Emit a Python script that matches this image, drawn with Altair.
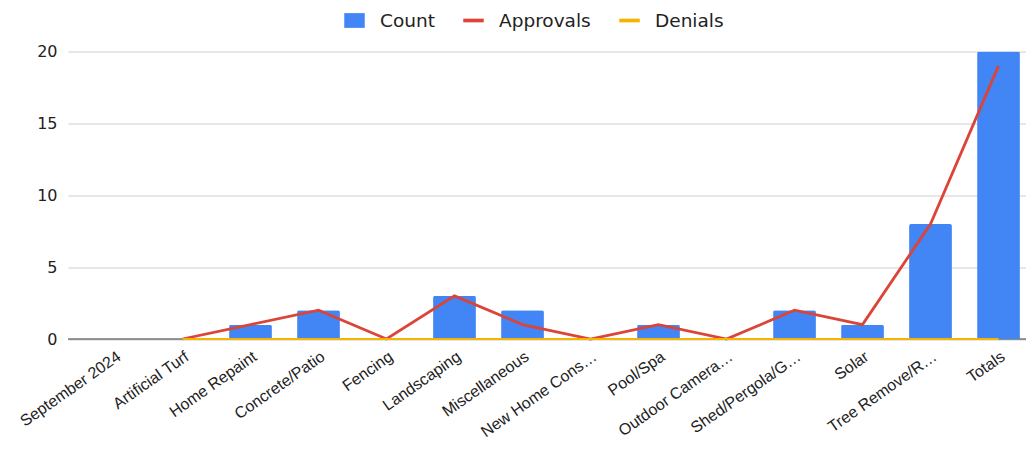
import altair as alt
import pandas as pd

categories = ["September 2024", "Artificial Turf", "Home Repaint", "Concrete/Patio", "Fencing",
              "Landscaping", "Miscellaneous", "New Home Cons…", "Pool/Spa", "Outdoor Camera…",
              "Shed/Pergola/G…", "Solar", "Tree Remove/R…", "Totals"]
count = [None, 0, 1, 2, 0, 3, 2, 0, 1, 0, 2, 1, 8, 20]
approvals = [None, 0, 1, 2, 0, 3, 1, 0, 1, 0, 2, 1, 8, 19]
denials = [None, 0, 0, 0, 0, 0, 0, 0, 0, 0, 0, 0, 0, 0]
series = ["Count", "Approvals", "Denials"]
colors = ["#4285F4", "#DB4437", "#F4B400"]
y_ticks = [0, 5, 10, 15, 20]
legend_shapes = ["M-1,-0.72H1V0.72H-1Z", "M-1,-0.18H1V0.18H-1Z", "M-1,-0.18H1V0.18H-1Z"]

rows = []
for name, vals in zip(series, [count, approvals, denials]):
    for c, v in zip(categories, vals):
        rows.append({"category": c, "series": name, "value": v})
df = pd.DataFrame(rows)

FONT = "DejaVu Sans"
XFONT = "Liberation Sans"

x_enc = alt.X("category:N", sort=categories,
              scale=alt.Scale(domain=categories, paddingInner=0.37, paddingOuter=0.229, align=0.805),
              axis=alt.Axis(title=None, labelAngle=-35, labelFontSize=16, labelColor="#222",
                            labelFont=XFONT, domain=False, ticks=False, labelPadding=9,
                            labelLimit=300, grid=False))
y_enc = alt.Y("value:Q", scale=alt.Scale(domain=[0, 20], nice=False),
              axis=alt.Axis(title=None, values=y_ticks, labelFontSize=16, labelColor="#222",
                            labelFont=FONT, domain=False, ticks=False, labelPadding=11,
                            gridColor="#cfcfcf", gridWidth=1))

base = alt.Chart(df)

bars = base.transform_filter(alt.datum.series == "Count").mark_bar(
    color=colors[0], cornerRadiusTopLeft=2, cornerRadiusTopRight=2
).encode(x=x_enc, y=y_enc)

zero = alt.Chart(pd.DataFrame({"value": [0]})).mark_rule(color="#333333", strokeWidth=1).encode(
    y=alt.Y("value:Q", scale=alt.Scale(domain=[0, 20], nice=False)))

line_app = base.transform_filter(alt.datum.series == "Approvals").mark_line(
    color=colors[1], strokeWidth=2.8
).encode(x=x_enc, y=y_enc)

line_den = base.transform_filter(alt.datum.series == "Denials").mark_line(
    color=colors[2], strokeWidth=2
).encode(x=x_enc, y=y_enc)

leg = alt.Legend(title=None, orient="none", legendX=276, legendY=-41.5, direction="horizontal",
                 symbolSize=420, symbolStrokeWidth=0, labelFontSize=18.5, labelColor="#222",
                 labelFont=FONT, labelOffset=15, columnPadding=28)

legend_layer = base.transform_filter("false").mark_point(filled=True, opacity=1).encode(
    x=x_enc, y=y_enc,
    color=alt.Color("series:N", scale=alt.Scale(domain=series, range=colors), legend=leg),
    shape=alt.Shape("series:N", scale=alt.Scale(domain=series, range=legend_shapes), legend=leg),
)

chart = alt.layer(zero, bars, line_app, line_den, legend_layer).properties(
    width=958, height=287.5,
    autosize=alt.AutoSizeParams(type="none"),
    padding={"left": 60, "top": 43.5, "right": 0, "bottom": 102},
).configure(font=FONT).configure_view(stroke=None)

chart.save("out.html", embed_options={"renderer": "svg", "actions": False})
